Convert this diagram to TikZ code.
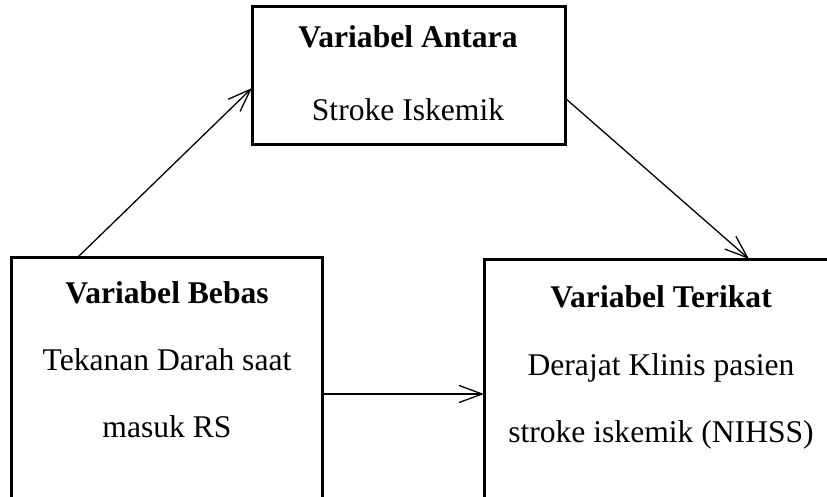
\documentclass[tikz,border=0pt]{standalone}
\usepackage{fontspec}
\setmainfont{Liberation Serif}
\usetikzlibrary{arrows.meta}
\begin{document}
\begin{tikzpicture}[x=1pt,y=-1pt,
  box/.style={draw, line width=3pt, rectangle, inner sep=0pt, outer sep=0pt},
  lbl/.style={anchor=base, inner sep=0pt, font=\fontsize{31.6}{38}\selectfont},
  ttl/.style={anchor=base, inner sep=0pt, font=\fontsize{31.6}{38}\selectfont\bfseries},
  arr/.style={line width=1.3pt, -{Straight Barb[length=23pt,width=17pt]}}]
\useasboundingbox (0,0) rectangle (827,497);
\clip (0,0) rectangle (827,497);
% boxes
\node[box, minimum width=313pt, minimum height=138pt] (antara) at (408.5,76) {};
\node[box, minimum width=311pt, minimum height=303pt] (bebas) at (166.5,408.5) {};
\node[box, minimum width=396pt, minimum height=301pt] (terikat) at (682,409.5) {};
% texts
\node[ttl] (t1) at (408,48) {Variabel Antara};
\node[lbl] (t2) at (408,121) {Stroke Iskemik};
\node[ttl] (t3) at (167,303) {Variabel Bebas};
\node[lbl] (t4) at (167,370) {Tekanan Darah saat};
\node[lbl] (t5) at (167,437) {masuk RS};
\node[ttl] (t6) at (661,307) {Variabel Terikat};
\node[lbl] (t7) at (661,375) {Derajat Klinis pasien};
\node[lbl] (t8) at (661,442) {stroke iskemik (NIHSS)};
% connector end points
\coordinate (c1s) at ([xshift=67pt]bebas.north west);
\coordinate (c1e) at ([yshift=-12pt]antara.west);
\coordinate (c2s) at ([yshift=-22pt]antara.east);
\coordinate (c2e) at ([xshift=265pt]terikat.north west);
\coordinate (c3s) at ([yshift=14.5pt]bebas.east);
% connectors
\draw[arr] (c1s) -- (c1e);
\draw[arr] (c2s) -- (c2e);
\draw[arr] (c3s) -- (c3s -| terikat.west);
\end{tikzpicture}
\end{document}
